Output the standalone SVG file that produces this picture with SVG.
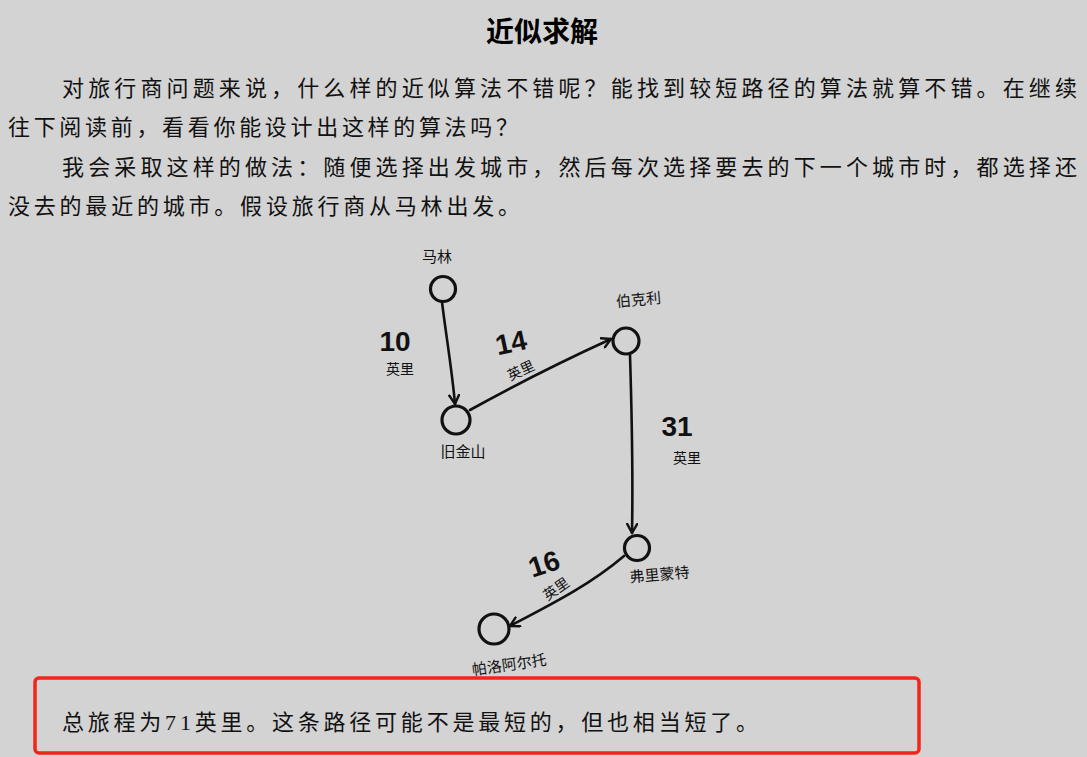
<svg xmlns="http://www.w3.org/2000/svg" width="1087" height="757" viewBox="0 0 1087 757">
<defs>
<style>
.bg{fill:#d3d3d3}
.title{font-family:"Noto Sans CJK SC","Liberation Sans",sans-serif;font-weight:bold;font-size:28px;fill:#000}
.p{font-family:"Liberation Serif","Noto Sans CJK SC",serif;font-size:22px;fill:#111}
.node circle{fill:none;stroke:#111;stroke-width:3.2}
.lbl{font-family:"Noto Sans CJK SC",sans-serif;font-size:15px;fill:#111}
.num{font-family:"Liberation Sans","Noto Sans CJK SC",sans-serif;font-weight:bold;font-size:28px;fill:#111}
.unit{font-family:"Noto Sans CJK SC",sans-serif;font-size:14px;fill:#111}
.edge{fill:none;stroke:#111;stroke-width:2.6;stroke-linecap:round}
</style>
<marker id="arr" viewBox="0 0 12 12" refX="10" refY="6" markerWidth="12" markerHeight="12" markerUnits="userSpaceOnUse" orient="auto">
<path d="M1,1 L10,6 L1,11" fill="none" stroke="#111" stroke-width="2.4" stroke-linecap="round" stroke-linejoin="round"/>
</marker>
</defs>
<rect class="bg" x="0" y="0" width="1087" height="757"/>
<text class="title" x="542" y="42" text-anchor="middle">近似求解</text>
<g id="text">
<text class="p" x="62" y="96" textLength="1015" lengthAdjust="spacing">对旅行商问题来说，什么样的近似算法不错呢？能找到较短路径的算法就算不错。在继续</text>
<text class="p" x="8" y="135" textLength="510" lengthAdjust="spacing">往下阅读前，看看你能设计出这样的算法吗？</text>
<text class="p" x="62" y="175" textLength="1015" lengthAdjust="spacing">我会采取这样的做法：随便选择出发城市，然后每次选择要去的下一个城市时，都选择还</text>
<text class="p" x="8" y="214" textLength="512" lengthAdjust="spacing">没去的最近的城市。假设旅行商从马林出发。</text>
</g>
<g id="connectors">
<path class="edge" d="M442,302 C446,335 452,370 455,404" marker-end="url(#arr)"/>
<path class="edge" d="M470,410 C515,385 565,360 611,339" marker-end="url(#arr)"/>
<path class="edge" d="M630,355 C632,420 633,480 632,533" marker-end="url(#arr)"/>
<path class="edge" d="M624,556 C590,585 550,605 510,626" marker-end="url(#arr)"/>
</g>
<g id="node-marin" class="node">
<circle cx="443" cy="289" r="12.5"/>
<text class="lbl" x="437" y="262" text-anchor="middle">马林</text>
</g>
<g id="node-sf" class="node">
<circle cx="456" cy="420" r="14"/>
<text class="lbl" x="463" y="457" text-anchor="middle">旧金山</text>
</g>
<g id="node-berkeley" class="node">
<circle cx="626" cy="341" r="13"/>
<text class="lbl" x="639" y="305" text-anchor="middle" transform="rotate(-5 639 305)">伯克利</text>
</g>
<g id="node-fremont" class="node">
<circle cx="637" cy="548" r="12.5"/>
<text class="lbl" x="660" y="580" text-anchor="middle" transform="rotate(-5 660 580)">弗里蒙特</text>
</g>
<g id="node-paloalto" class="node">
<circle cx="494" cy="629" r="15"/>
<text class="lbl" x="510" y="670" text-anchor="middle" transform="rotate(-8 510 670)">帕洛阿尔托</text>
</g>
<g id="labels">
<text class="num" x="395" y="351" text-anchor="middle">10</text>
<text class="unit" x="400" y="374" text-anchor="middle">英里</text>
<text class="num" x="513" y="352" text-anchor="middle" transform="rotate(-12 513 352)">14</text>
<text class="unit" x="523" y="375" text-anchor="middle" transform="rotate(-25 523 375)">英里</text>
<text class="num" x="677" y="436" text-anchor="middle">31</text>
<text class="unit" x="687" y="463" text-anchor="middle">英里</text>
<text class="num" x="547" y="573" text-anchor="middle" transform="rotate(-18 547 573)">16</text>
<text class="unit" x="559" y="593" text-anchor="middle" transform="rotate(-35 559 593)">英里</text>
</g>
<g id="note">
<rect x="35" y="678" width="884" height="75" rx="4" fill="none" stroke="#f4241a" stroke-width="3.5"/>
<text class="p" x="62" y="730" textLength="696" lengthAdjust="spacing">总旅程为71英里。这条路径可能不是最短的，但也相当短了。</text>
</g>
</svg>
